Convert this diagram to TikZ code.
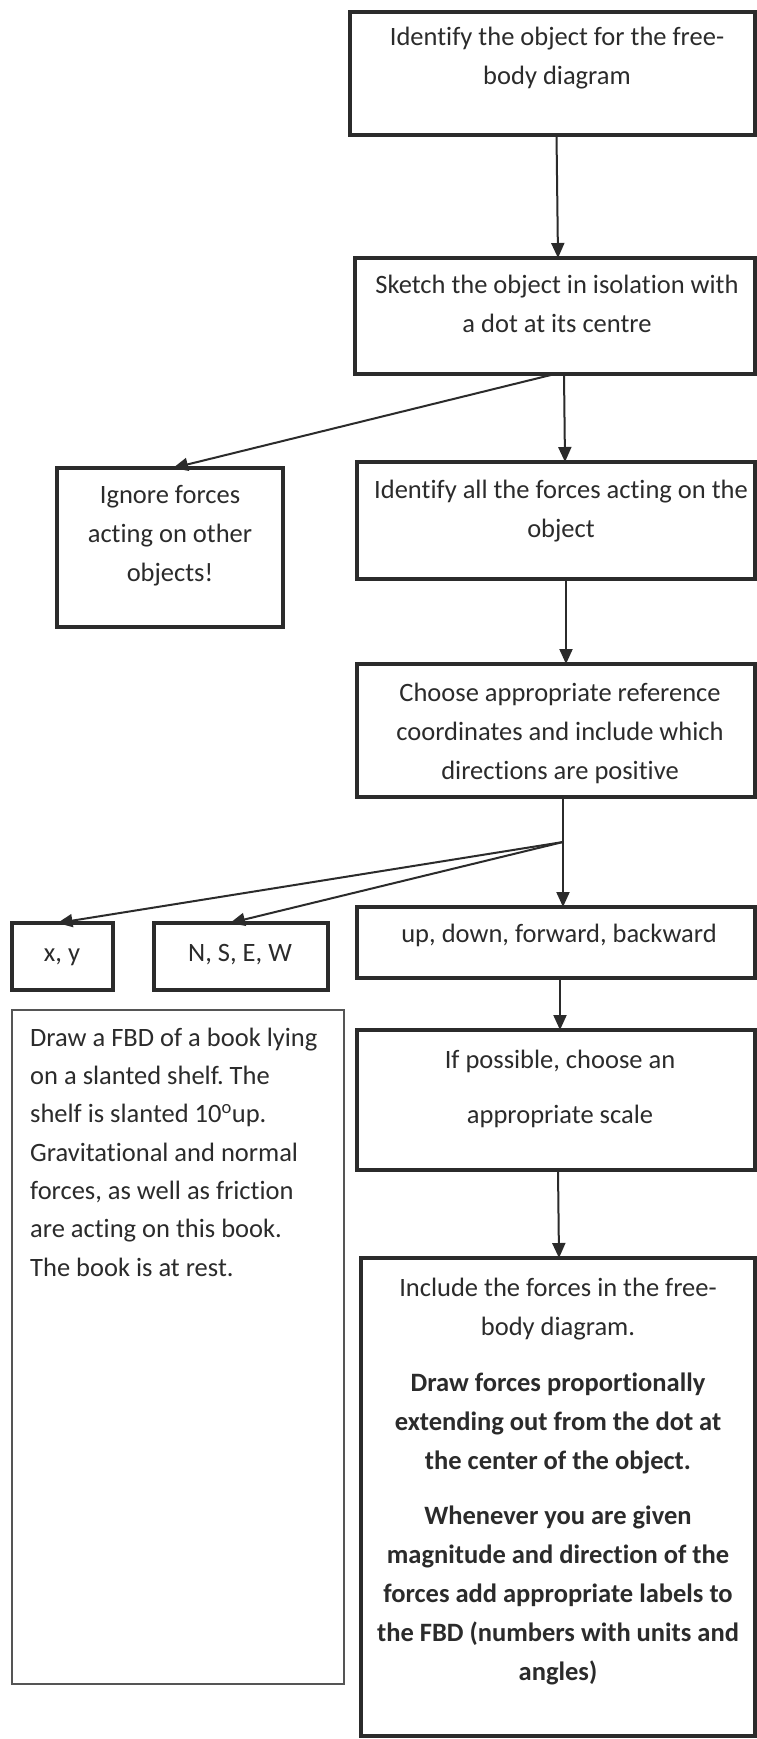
\documentclass[tikz,border=0pt]{standalone}
\usepackage{fontspec}
\setmainfont{Carlito}[Ligatures=NoCommon]
\frenchspacing
\usepackage{tikz}
\usetikzlibrary{arrows.meta,positioning}
\definecolor{ink}{HTML}{2B2B2B}
\definecolor{linegray}{HTML}{555555}
\tikzset{
  >={Triangle[length=15pt,width=13pt]},
  stepbox/.style={draw=ink,line width=4.5pt,inner sep=0pt,outer sep=0pt,anchor=north west},
  notebox/.style={draw=linegray,line width=1.8pt,inner sep=0pt,outer sep=0pt,anchor=north west},
  % texts sit on the baseline of their last line
  txt/.style={font=\fontsize{26.5}{39}\selectfont,text=ink,align=center,anchor=base,inner sep=0pt},
  flow/.style={->,line width=2pt,color=ink},
}

\begin{document}
\begin{tikzpicture}[x=1pt,y=-1pt]
  \useasboundingbox[fill=white] (0,0) rectangle (757,1739);
  % boxes
  \node[stepbox,minimum width=405pt,minimum height=123pt] (obj) at (350,12) {};
  \node[stepbox,minimum width=400pt,minimum height=116pt] (sketch) at (355,258) {};
  \node[stepbox,minimum width=226pt,minimum height=159pt] (ignore) at (57,468) {};
  \node[stepbox,minimum width=398pt,minimum height=117pt] (forces) at (357,462) {};
  \node[stepbox,minimum width=398pt,minimum height=133pt] (coord) at (357,664) {};
  \node[stepbox,minimum width=101pt,minimum height=67pt] (xy) at (12,923) {};
  \node[stepbox,minimum width=174pt,minimum height=67pt] (nsew) at (154,923) {};
  \node[stepbox,minimum width=398pt,minimum height=71pt] (dirs) at (357,907) {};
  \node[stepbox,minimum width=398pt,minimum height=140pt] (scale) at (357,1030) {};
  \node[notebox,minimum width=332pt,minimum height=674pt] (task) at (12,1010) {};
  \node[stepbox,minimum width=394pt,minimum height=478pt] (incl) at (361,1258) {};
  % texts
  \node[txt] (objtext) at (557,85) {Identify the object for the free-\\body diagram};
  \node[txt] (sketchtext) at (557,332) {Sketch the object in isolation with\\a dot at its centre};
  \node[txt] (ignoretext) at (170,581) {Ignore forces\\acting on other\\objects!};
  \node[txt] (forcestext) at (561,537) {Identify all the forces acting on the\\object};
  \node[txt] (coordtext) at (560,779) {Choose appropriate reference\\coordinates and include which\\directions are positive};
  \node[txt] (xytext) at (62,961) {x, y};
  \node[txt] (nsewtext) at (240,961) {N, S, E, W};
  \node[txt] (dirstext) at (559,942) {up, down, forward, backward};
  \node[txt] (scaletext) at (560,1123) {If possible, choose an\\[16pt]appropriate scale};
  \node[txt,align=left,anchor=base west,font=\fontsize{26.5}{38.3}\selectfont] (tasktext) at (30,1276)
    {Draw a FBD of a book lying\\on a slanted shelf. The\\shelf is slanted 10\textsuperscript{o}up.\\Gravitational and normal\\forces, as well as friction\\are acting on this book.\\The book is at rest.};
  \node[txt] (incltext) at (558,1680) {Include the forces in the free-\\body diagram.\\[17pt]
    \bfseries Draw forces proportionally\\\bfseries extending out from the dot at\\\bfseries the center of the object.\\[16pt]
    \bfseries Whenever you are given\\\bfseries magnitude and direction of the\\\bfseries forces add appropriate labels to\\\bfseries the FBD (numbers with units and\\\bfseries angles)};
  % connectors
  \coordinate (fork) at ([xshift=7pt,yshift=-45pt]coord.south);
  \draw[flow] ([xshift=4pt]obj.south) -- ([xshift=3pt]sketch.north);
  \draw[flow] (sketch.south) -- ([xshift=3pt]ignore.north);
  \draw[flow] ([xshift=9pt]sketch.south) -- ([xshift=9pt]forces.north);
  \draw[flow] ([xshift=10pt]forces.south) -- ([xshift=10pt]coord.north);
  \draw[flow] ([xshift=7pt]coord.south) -- (fork) -- ([xshift=7pt]dirs.north);
  \draw[flow] (fork) -- ([xshift=-5pt]xy.north);
  \draw[flow] (fork) -- ([xshift=-11pt]nsew.north);
  \draw[flow] ([xshift=4pt]dirs.south) -- ([xshift=4pt]scale.north);
  \draw[flow] ([xshift=2pt]scale.south) -- ([xshift=1pt]incl.north);
\end{tikzpicture}
\end{document}
